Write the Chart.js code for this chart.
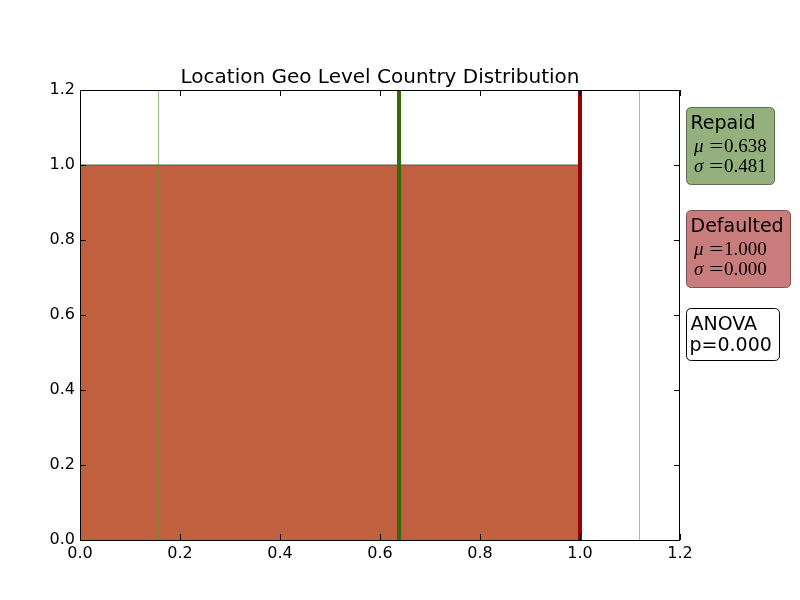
<!DOCTYPE html>
<html>
<head>
<meta charset="utf-8">
<script src="https://cdn.jsdelivr.net/npm/chart.js@4"></script>
<style>
  body { margin: 0; background: #ffffff; }
  #wrap { width: 800px; height: 600px; }
</style>
</head>
<body>
<div id="wrap"><canvas id="distChart" width="800" height="600"></canvas></div>
<script>
// histogram (single bin spanning 0..1)
const binEdges = [0, 1];
const binHeights = [1.0];

// group stats
const groups = ['Repaid', 'Defaulted'];
const means = [0.638, 1.000];
const stds = [0.481, 0.000];
const anovaP = 0.000;

// axis ticks
const xTicks = [0.0, 0.2, 0.4, 0.6, 0.8, 1.0, 1.2];
const yTicks = [0.0, 0.2, 0.4, 0.6, 0.8, 1.0, 1.2];

const chartTitle = 'Location Geo Level Country Distribution';

const meanColors = ['#336a0c', '#990000'];
const boxFills = ['#93b07d', '#c97c7c'];
const boxEdges = ['#5b6e50', '#7d5252'];

function vline(x, color, width, order) {
    return {
        data: [{x: x, y: 0}, {x: x, y: 1.2}],
        showLine: true,
        borderColor: color,
        borderWidth: width,
        pointRadius: 0,
        fill: false,
        order: order
    };
}

function buildDatasets() {
    const sets = [];
    // filled histogram
    const histPts = [];
    for (let i = 0; i < binHeights.length; i++) {
        histPts.push({x: binEdges[i], y: binHeights[i]});
        histPts.push({x: binEdges[i + 1], y: binHeights[i]});
    }
    sets.push({
        data: histPts,
        showLine: true,
        fill: 'origin',
        backgroundColor: '#c0603f',
        borderColor: '#555555',
        borderWidth: 1,
        pointRadius: 0,
        order: 10
    });
    // mean +/- std lines
    for (let g = 0; g < groups.length; g++) {
        if (stds[g] > 0) {
            sets.push(vline(means[g] - stds[g], 'rgba(90,150,40,0.6)', 1, 5));
            sets.push(vline(means[g] + stds[g], 'rgba(110,150,80,0.6)', 1, 5));
        }
    }
    // mean lines
    for (let g = 0; g < groups.length; g++) {
        sets.push(vline(means[g], meanColors[g], 4, 1));
    }
    return sets;
}

function roundBox(ctx, x, y, w, h, r, fill, stroke) {
    ctx.beginPath();
    ctx.moveTo(x + r, y);
    ctx.lineTo(x + w - r, y);
    ctx.quadraticCurveTo(x + w, y, x + w, y + r);
    ctx.lineTo(x + w, y + h - r);
    ctx.quadraticCurveTo(x + w, y + h, x + w - r, y + h);
    ctx.lineTo(x + r, y + h);
    ctx.quadraticCurveTo(x, y + h, x, y + h - r);
    ctx.lineTo(x, y + r);
    ctx.quadraticCurveTo(x, y, x + r, y);
    ctx.closePath();
    ctx.fillStyle = fill;
    ctx.fill();
    ctx.lineWidth = 1;
    ctx.strokeStyle = stroke;
    ctx.stroke();
}

// mathtext-like "mu =0.638"
function mathLine(ctx, sym, val, x, y) {
    ctx.font = 'italic 19px "Liberation Serif"';
    ctx.fillText(sym, x, y);
    ctx.font = '19px "Liberation Serif"';
    ctx.save();
    ctx.translate(x + 15, y);
    ctx.scale(1.35, 1);
    ctx.fillText('=', 0, 0);
    ctx.restore();
    ctx.fillText(val.toFixed(3), x + 30, y);
}

const framePlugin = {
    id: 'frame',
    afterDatasetsDraw(chart) {
        const ctx = chart.ctx;
        const a = chart.chartArea;
        const xs = chart.scales.x, ys = chart.scales.y;
        ctx.save();
        ctx.strokeStyle = '#000';
        ctx.lineWidth = 1;
        ctx.strokeRect(a.left + 0.5, a.top + 0.5, a.right - a.left - 1, a.bottom - a.top);
        ctx.beginPath();
        xTicks.forEach(v => {
            const px = Math.round(xs.getPixelForValue(v)) + 0.5;
            ctx.moveTo(px, a.bottom); ctx.lineTo(px, a.bottom - 6);
            ctx.moveTo(px, a.top); ctx.lineTo(px, a.top + 6);
        });
        yTicks.forEach(v => {
            const py = Math.round(ys.getPixelForValue(v)) + 0.5;
            ctx.moveTo(a.left, py); ctx.lineTo(a.left + 6, py);
            ctx.moveTo(a.right, py); ctx.lineTo(a.right - 6, py);
        });
        ctx.stroke();
        ctx.restore();
    },
    afterDraw(chart) {
        const ctx = chart.ctx;
        const a = chart.chartArea;
        const bx = a.right + 6.5;
        ctx.save();
        ctx.textBaseline = 'alphabetic';
        // title
        ctx.fillStyle = '#000';
        ctx.textAlign = 'center';
        ctx.font = '20px "DejaVu Sans"';
        ctx.fillText(chartTitle, (a.left + a.right) / 2, 83);
        ctx.textAlign = 'left';
        // group boxes
        const tops = [107.5, 210.5];
        const widths = [88, 104];
        for (let g = 0; g < groups.length; g++) {
            const top = tops[g];
            roundBox(ctx, bx, top, widths[g], 77, 5, boxFills[g], boxEdges[g]);
            ctx.fillStyle = '#000';
            ctx.font = '19px "DejaVu Sans"';
            ctx.fillText(groups[g], bx + 4, top + 21);
            mathLine(ctx, '\u03bc', means[g], bx + 7.5, top + 44);
            mathLine(ctx, '\u03c3', stds[g], bx + 7.5, top + 64);
        }
        // anova box
        roundBox(ctx, bx, 308.5, 93, 52, 5, '#ffffff', '#000000');
        ctx.fillStyle = '#000';
        ctx.font = '19px "DejaVu Sans"';
        ctx.fillText('ANOVA', bx + 4, 330);
        ctx.fillText('p=' + anovaP.toFixed(3), bx + 3, 351);
        ctx.restore();
    }
};

const tickFont = {family: 'DejaVu Sans', size: 16};

new Chart(document.getElementById('distChart').getContext('2d'), {
    type: 'scatter',
    data: {datasets: buildDatasets()},
    options: {
        responsive: false,
        animation: false,
        layout: {padding: {left: 0, right: 120, top: 90, bottom: 0}},
        plugins: {
            legend: {display: false},
            tooltip: {enabled: false},
            title: {display: false}
        },
        scales: {
            x: {
                type: 'linear',
                min: 0,
                max: 1.2,
                afterFit: s => { s.height = 60; },
                afterBuildTicks: s => { s.ticks = xTicks.map(v => ({value: v})); },
                grid: {display: false, drawTicks: false},
                border: {display: false},
                ticks: {
                    color: '#000',
                    font: tickFont,
                    padding: 4,
                    maxRotation: 0,
                    callback: v => Number(v).toFixed(1)
                }
            },
            y: {
                type: 'linear',
                min: 0,
                max: 1.2,
                afterFit: s => { s.width = 80; },
                afterBuildTicks: s => { s.ticks = yTicks.map(v => ({value: v})); },
                grid: {display: false, drawTicks: false},
                border: {display: false},
                ticks: {
                    color: '#000',
                    font: tickFont,
                    padding: 5,
                    callback: v => Number(v).toFixed(1)
                }
            }
        }
    },
    plugins: [framePlugin]
});
</script>
</body>
</html>
